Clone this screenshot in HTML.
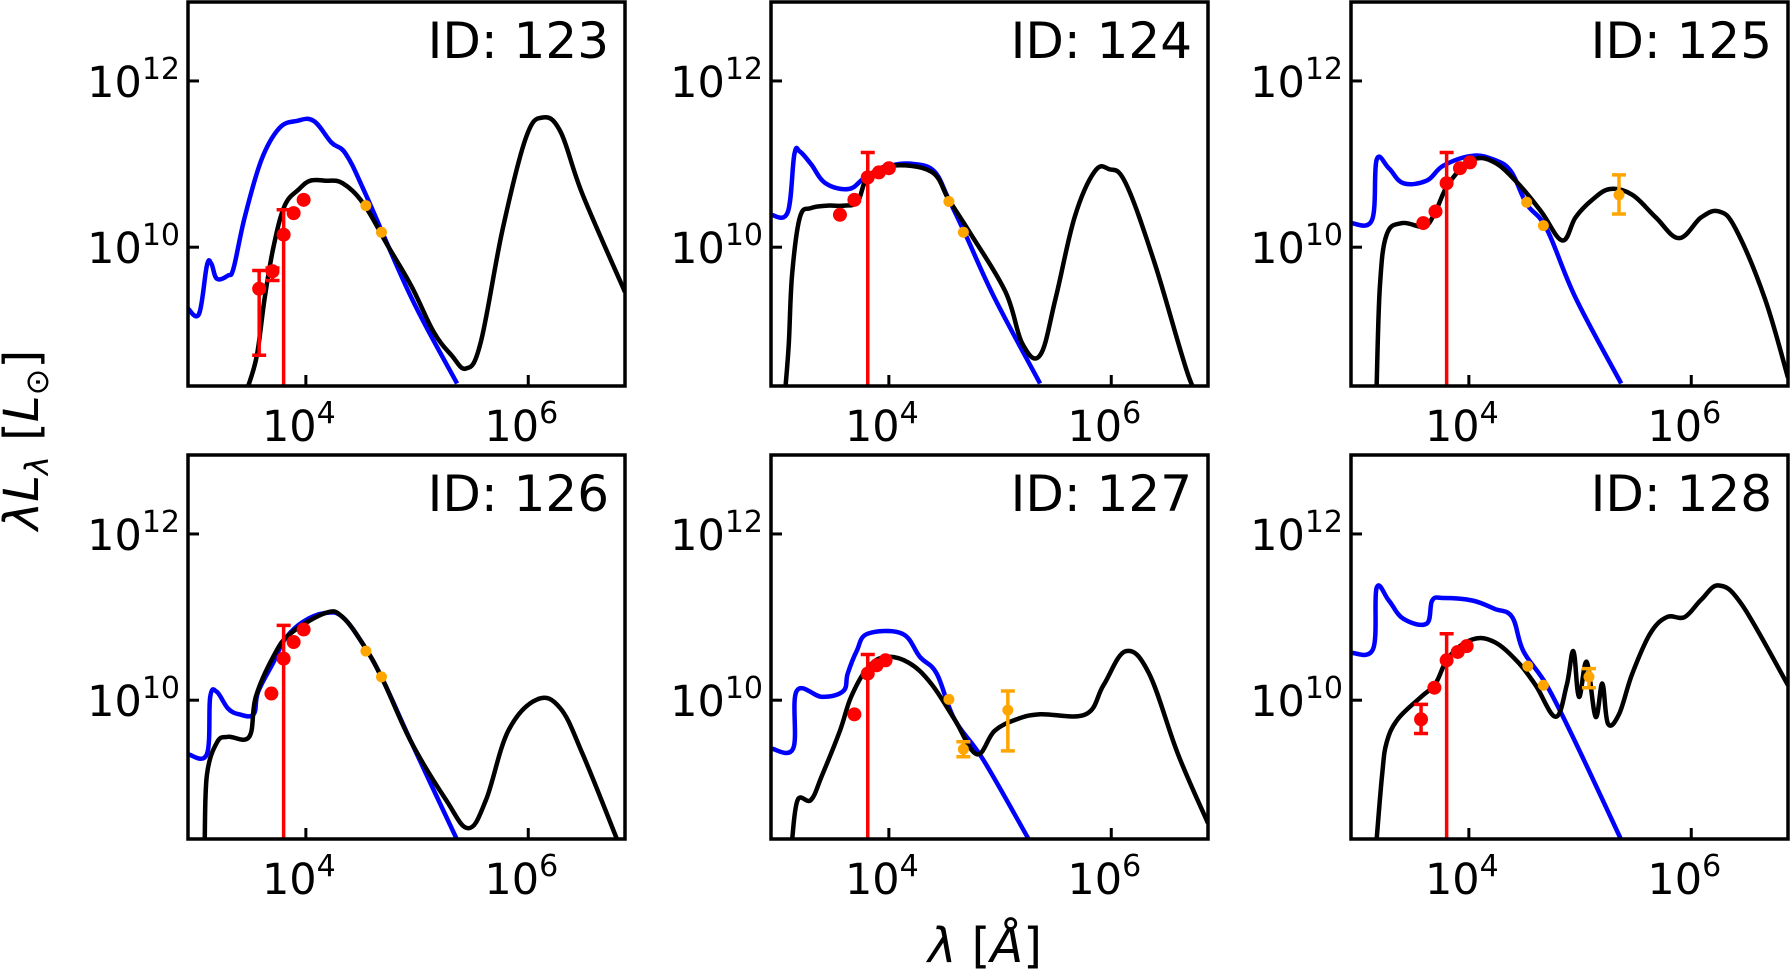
<!DOCTYPE html>
<html><head><meta charset="utf-8"><style>
body{margin:0;background:#fff;}
svg{display:block;font-family:"DejaVu Sans","Liberation Sans",sans-serif;}
</style></head><body>
<svg id="s" width="1791" height="975" xmlns="http://www.w3.org/2000/svg"></svg>
<script>
const S=document.getElementById('s');
const NS='http://www.w3.org/2000/svg';
function el(t,a,txt,par){const e=document.createElementNS(NS,t);for(const k in a)e.setAttribute(k,a[k]);if(txt!=null)e.textContent=txt;(par||S).appendChild(e);return e;}
const cols=[188,771,1351], rows=[2,455], W=437, H=384;
const X0=2.94,X1=6.87,Y0=8.33,Y1=12.95;
const P=[
{id:123,blue:[[2.94,9.26],[3.04,9.2],[3.11,9.78],[3.15,9.8],[3.2,9.62],[3.3,9.66],[3.35,9.75],[3.45,10.36],[3.6,11.05],[3.76,11.43],[3.92,11.52],[4.07,11.52],[4.23,11.26],[4.36,11.12],[4.54,10.63],[4.95,9.39],[5.36,8.36]],
black:[[3.48,8.32],[3.56,8.7],[3.63,9.39],[3.71,10.01],[3.81,10.5],[3.94,10.7],[4.04,10.8],[4.18,10.8],[4.33,10.77],[4.52,10.52],[4.74,10.01],[4.95,9.53],[5.15,8.98],[5.31,8.7],[5.44,8.54],[5.57,8.84],[5.77,10.22],[5.98,11.32],[6.13,11.56],[6.29,11.39],[6.49,10.63],[6.87,9.46]],
red:[[3.58,9.5,9.72,8.7],[3.7,9.71,9.75,9.6],[3.8,10.15,10.45,7],[3.89,10.41],[3.98,10.57]],
orange:[[4.54,10.5],[4.68,10.18]]},
{id:124,blue:[[2.94,10.39],[3.09,10.42],[3.15,11.12],[3.2,11.15],[3.3,11.0],[3.43,10.77],[3.64,10.7],[3.79,10.84],[4.02,10.98],[4.23,11.0],[4.41,10.91],[4.54,10.57],[4.69,10.15],[4.95,9.39],[5.36,8.36]],
black:[[3.07,8.32],[3.1,8.84],[3.13,9.67],[3.2,10.36],[3.3,10.47],[3.45,10.5],[3.6,10.5],[3.72,10.55],[3.81,10.84],[4.02,10.98],[4.38,10.91],[4.54,10.57],[4.74,10.15],[5.05,9.46],[5.2,8.84],[5.36,8.7],[5.5,9.39],[5.67,10.36],[5.85,10.91],[5.98,10.94],[6.13,10.77],[6.39,9.81],[6.7,8.43],[6.8,8.3]],
red:[[3.56,10.39],[3.69,10.57],[3.81,10.84,11.14,7],[3.91,10.9],[4.0,10.95]],
orange:[[4.54,10.55],[4.67,10.18]]},
{id:125,blue:[[2.94,10.29],[3.13,10.33],[3.17,11.05],[3.28,10.95],[3.41,10.77],[3.62,10.8],[3.77,10.98],[4.03,11.1],[4.23,11.05],[4.38,10.91],[4.52,10.52],[4.7,10.22],[4.96,9.39],[5.37,8.36]],
black:[[3.17,8.32],[3.2,9.53],[3.26,10.15],[3.4,10.29],[3.6,10.25],[3.7,10.43],[3.82,10.77],[4.03,11.05],[4.23,11.02],[4.44,10.77],[4.65,10.43],[4.84,10.08],[4.96,10.36],[5.11,10.57],[5.27,10.7],[5.47,10.63],[5.68,10.36],[5.89,10.11],[6.09,10.36],[6.25,10.43],[6.4,10.22],[6.66,9.39],[6.87,8.43]],
red:[[3.59,10.29],[3.7,10.43],[3.8,10.77,11.14,7],[3.92,10.95],[4.01,11.02]],
orange:[[4.52,10.54],[4.67,10.26],[5.35,10.63,10.87,10.4]]},
{id:126,blue:[[2.94,9.35],[3.11,9.35],[3.14,10.04],[3.2,10.1],[3.3,9.9],[3.4,9.83],[3.53,9.83],[3.57,10.1],[3.71,10.46],[3.81,10.73],[3.97,10.94],[4.18,11.05],[4.33,11.0],[4.52,10.66],[4.69,10.25],[4.95,9.49],[5.36,8.32]],
black:[[3.09,8.32],[3.11,9.1],[3.2,9.49],[3.3,9.56],[3.49,9.56],[3.55,10.04],[3.71,10.53],[3.86,10.8],[4.18,11.05],[4.33,11.0],[4.52,10.66],[4.69,10.25],[4.95,9.49],[5.26,8.8],[5.46,8.46],[5.62,8.8],[5.82,9.63],[6.08,10.01],[6.29,9.9],[6.49,9.35],[6.8,8.32]],
red:[[3.69,10.08],[3.8,10.5,10.9,7],[3.89,10.7],[3.98,10.85]],
orange:[[4.54,10.59],[4.68,10.28]]},
{id:127,blue:[[2.94,9.42],[3.14,9.42],[3.17,10.11],[3.4,10.04],[3.59,10.11],[3.63,10.32],[3.71,10.59],[3.81,10.8],[4.12,10.8],[4.28,10.52],[4.43,10.32],[4.59,9.77],[4.85,9.28],[5.26,8.32]],
black:[[3.13,8.32],[3.18,8.8],[3.3,8.8],[3.4,9.1],[3.56,9.63],[3.66,10.04],[3.81,10.39],[3.97,10.52],[4.18,10.45],[4.38,10.2],[4.59,9.77],[4.79,9.35],[4.95,9.63],[5.15,9.77],[5.36,9.83],[5.77,9.83],[5.93,10.18],[6.13,10.59],[6.34,10.32],[6.6,9.35],[6.87,8.52]],
red:[[3.69,9.83],[3.81,10.32,10.55,7],[3.89,10.42],[3.97,10.48]],
orange:[[4.54,10.01],[4.67,9.41,9.5,9.32],[5.07,9.88,10.11,9.39]]},
{id:128,blue:[[2.94,10.57],[3.14,10.62],[3.17,11.35],[3.28,11.2],[3.41,10.98],[3.62,10.92],[3.67,11.2],[3.77,11.23],[4.03,11.2],[4.23,11.1],[4.39,11.0],[4.49,10.59],[4.7,10.18],[4.96,9.49],[5.37,8.32]],
black:[[3.17,8.32],[3.22,9.1],[3.26,9.49],[3.36,9.77],[3.57,10.04],[3.7,10.2],[3.82,10.52],[4.03,10.73],[4.23,10.7],[4.44,10.46],[4.6,10.18],[4.78,9.8],[4.88,10.18],[4.94,10.59],[4.99,10.04],[5.06,10.46],[5.14,9.8],[5.2,10.2],[5.25,9.72],[5.35,9.83],[5.47,10.32],[5.63,10.8],[5.78,11.0],[5.94,11.0],[6.09,11.21],[6.25,11.38],[6.46,11.14],[6.87,10.18]],
red:[[3.57,9.77,9.95,9.6],[3.69,10.15],[3.8,10.48,10.8,7],[3.9,10.58],[3.98,10.65]],
orange:[[4.53,10.41],[4.67,10.18],[5.08,10.28,10.38,10.15]]}
];
function smooth(p){let d=`M${p[0][0].toFixed(1)},${p[0][1].toFixed(1)}`;
  for(let i=0;i<p.length-1;i++){const a=p[Math.max(0,i-1)],b=p[i],c=p[i+1],e=p[Math.min(p.length-1,i+2)];
    const t=0.18;
    const c1=[b[0]+(c[0]-a[0])*t,b[1]+(c[1]-a[1])*t],c2=[c[0]-(e[0]-b[0])*t,c[1]-(e[1]-b[1])*t];
    d+=` C${c1[0].toFixed(1)},${c1[1].toFixed(1)} ${c2[0].toFixed(1)},${c2[1].toFixed(1)} ${c[0].toFixed(1)},${c[1].toFixed(1)}`;}
  return d;}
P.forEach((p,i)=>{
  const L=cols[i%3],T=rows[Math.floor(i/3)];
  const fx=v=>L+(v-X0)/(X1-X0)*W, fy=v=>T+(Y1-v)/(Y1-Y0)*H;
  const cid='c'+i;
  const cp=el('clipPath',{id:cid});el('rect',{x:L,y:T,width:W,height:H},null,cp);
  const g=el('g',{'clip-path':'url(#'+cid+')'});
  function pl(pts,c){el('path',{d:smooth(pts.map(q=>[fx(q[0]),fy(q[1])])),fill:'none',stroke:c,'stroke-width':4.5,'stroke-linejoin':'round'},null,g);}
  pl(p.blue,'#0000ff');pl(p.black,'#000');
  function pts(arr,c,r){arr.forEach(q=>{const x=fx(q[0]),y=fy(q[1]);
    if(q.length>2){const y1=fy(q[2]),y2=Math.min(fy(q[3]),T+H+5);
      el('path',{d:`M${x},${y1}V${y2}M${x-7},${y1}h14`+(q[3]>7?`M${x-7},${y2}h14`:''),stroke:c,'stroke-width':3.5,fill:'none'},null,g);}
    el('circle',{cx:x,cy:y,r:r,fill:c},null,g);});}
  pts(p.red,'#ff0000',7);pts(p.orange,'#ffa500',5.5);
  el('rect',{x:L,y:T,width:W,height:H,fill:'none',stroke:'#000','stroke-width':3.5});
  [4,6].forEach(v=>{const x=fx(v);el('line',{x1:x,x2:x,y1:T+H,y2:T+H-11,stroke:'#000','stroke-width':3});
    const t=el('text',{x:x-7,y:T+H+55,'font-size':43,'text-anchor':'middle'},'10');el('tspan',{dy:-18,'font-size':30},String(v),t);});
  [10,12].forEach(v=>{const y=fy(v);el('line',{x1:L,x2:L+11,y1:y,y2:y,stroke:'#000','stroke-width':3});
    const t=el('text',{x:L-8,y:y+16,'font-size':43,'text-anchor':'end'},'10');el('tspan',{dy:-18,'font-size':30},String(v),t);});
  el('text',{x:L+W-16,y:T+56,'font-size':50,'text-anchor':'end'},'ID: '+p.id);
});
const xl=el('text',{x:985,y:962,'font-size':48,'text-anchor':'middle'});
xl.innerHTML='<tspan font-style="italic">λ</tspan> [<tspan font-style="italic">Å</tspan>]';
const yl=el('text',{x:0,y:0,'font-size':48,'text-anchor':'middle',transform:'translate(38,440) rotate(-90)'});
yl.innerHTML='<tspan font-style="italic">λL</tspan><tspan font-style="italic" font-size="32" dy="10">λ</tspan><tspan dy="-10"> [</tspan><tspan font-style="italic">L</tspan><tspan font-size="32" dy="10">⊙</tspan><tspan dy="-10">]</tspan>';
</script>
</body></html>
